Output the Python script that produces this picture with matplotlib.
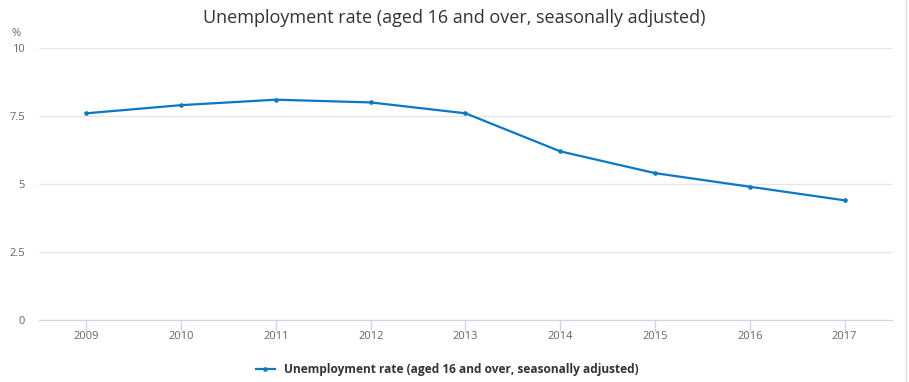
import matplotlib.pyplot as plt
from matplotlib.lines import Line2D

plt.rcParams['font.family'] = ['Open Sans', 'DejaVu Sans']

years = ['2009', '2010', '2011', '2012', '2013', '2014', '2015', '2016', '2017']
rate = [7.6, 7.9, 8.1, 8.0, 7.6, 6.2, 5.4, 4.9, 4.4]
yticks = [0, 2.5, 5, 7.5, 10]
ytick_labels = ['0', '2.5', '5', '7.5', '10']

title = 'Unemployment rate (aged 16 and over, seasonally adjusted)'
line_color = '#0a78c3'

fig = plt.figure(figsize=(9.09, 3.82), dpi=100)
ax = fig.add_axes([0.0429, 0.1623, 0.9384, 0.712])

x = list(range(len(years)))
ax.plot(x, rate, color=line_color, lw=1.6, marker='o', ms=2.3,
        label=title)

ax.set_xlim(-0.5, len(years) - 0.5)
ax.set_ylim(0, 10)
ax.set_xticks(x)
ax.set_xticklabels(years)
ax.set_yticks(yticks)
ax.set_yticklabels(ytick_labels)

ax.grid(axis='y', color='#e6e6e6', lw=1)
ax.set_axisbelow(True)
for s in ['top', 'right', 'left']:
    ax.spines[s].set_visible(False)
ax.spines['bottom'].set_color('#ccd6eb')
ax.spines['bottom'].set_zorder(1)
ax.tick_params(axis='x', colors='#ccd6eb', length=8, width=1, labelcolor='#666666',
               labelsize=8, pad=0)
ax.tick_params(axis='y', length=0, labelcolor='#666666', labelsize=8, pad=10)

fig.text(0.5, 0.952, title, ha='center', va='center', fontsize=13, color='#333333')
fig.text(0.013, 0.912, '%', ha='left', va='center', fontsize=8, color='#666666')

leg = fig.legend(loc='center', bbox_to_anchor=(0.492, 0.033), frameon=False,
                 handlelength=1.6, prop={'weight': 'bold', 'size': 8.6})
for t in leg.get_texts():
    t.set_color('#333333')

fig.add_artist(Line2D([0.997, 0.997], [0, 1], transform=fig.transFigure,
                      color='#e0e0e0', lw=1))

fig.savefig('out.png', dpi=100)
